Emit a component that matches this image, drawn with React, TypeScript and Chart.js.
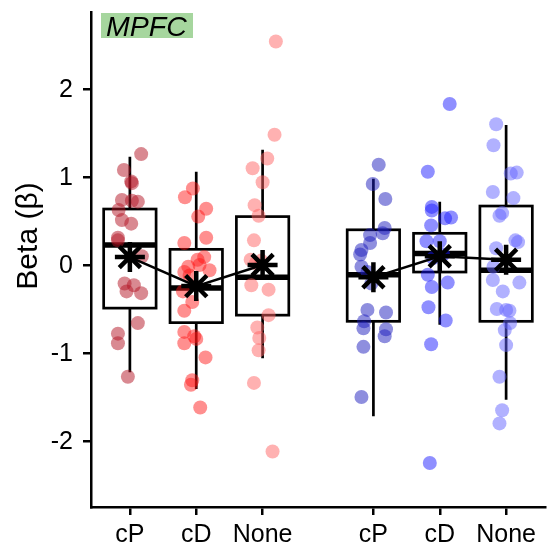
import React, { useEffect, useRef } from 'react';
import { Chart, registerables } from 'chart.js';
Chart.register(...registerables);

const FONT = '"Liberation Sans", Arial, sans-serif';

const categories = ['cP', 'cD', 'None', 'cP', 'cD', 'None'];
const positions = [1, 2, 3, 4.67, 5.67, 6.67];
const yTicks = [-2, -1, 0, 1, 2];

// individual values (beta) and horizontal jitter (category units)
const g1Values = [1.26, 1.08, 0.95, 0.93, 0.74, 0.73, 0.72, 0.625, 0.51, 0.47, 0.31, 0.28, 0.1, -0.21, -0.23, -0.3, -0.32, -0.66, -0.78, -0.89, -1.27];
const g1Jitter = [0.17, -0.09, 0.02, 0.03, -0.12, 0.03, 0.12, -0.17, -0.12, 0.02, -0.18, -0.18, 0.18, -0.08, 0.06, -0.05, 0.17, 0.12, -0.18, -0.18, -0.03];
const g2Values = [0.87, 0.77, 0.64, 0.55, 0.31, 0.25, 0.09, 0.06, 0.0, -0.02, -0.06, -0.08, -0.12, -0.3, -0.42, -0.52, -0.76, -0.81, -0.84, -0.89, -1.05, -1.31, -1.36, -1.62];
const g2Jitter = [-0.05, -0.17, 0.15, 0.03, 0.15, -0.18, 0.12, 0.02, 0.05, -0.12, 0.2, -0.18, -0.1, -0.2, -0.06, -0.18, -0.18, -0.03, 0.0, -0.18, 0.14, -0.06, -0.08, 0.06];
const g3Values = [2.54, 1.48, 1.21, 1.1, 0.94, 0.68, 0.56, 0.28, 0.06, 0.05, 0.02, -0.23, -0.28, -0.57, -0.71, -0.83, -0.97, -1.34, -2.12];
const g3Jitter = [0.2, 0.18, 0.07, -0.15, 0.0, -0.12, -0.06, -0.13, -0.18, -0.02, -0.1, -0.17, 0.09, 0.09, -0.08, -0.05, -0.06, -0.13, 0.15];
const g4Values = [1.14, 0.92, 0.75, 0.42, 0.36, 0.34, 0.25, 0.17, 0.12, -0.02, -0.08, -0.21, -0.51, -0.54, -0.64, -0.72, -0.73, -0.81, -0.93, -1.5];
const g4Jitter = [0.08, -0.01, 0.18, 0.17, 0.14, -0.05, -0.05, -0.18, -0.2, -0.18, -0.09, -0.03, -0.09, 0.19, -0.14, -0.15, 0.19, 0.17, -0.15, -0.18];
const g5Values = [1.83, 1.06, 0.66, 0.62, 0.54, 0.53, 0.45, 0.27, 0.27, 0.12, 0.08, -0.11, -0.2, -0.25, -0.48, -0.63, -0.9, -2.25];
const g5Jitter = [0.15, -0.18, -0.12, -0.12, 0.17, 0.08, -0.13, -0.2, 0.0, 0.05, -0.1, -0.18, 0.12, -0.12, -0.17, 0.09, -0.13, -0.15];
const g6Values = [1.6, 1.36, 1.05, 1.04, 0.83, 0.76, 0.59, 0.56, 0.28, 0.26, 0.19, -0.02, -0.17, -0.2, -0.3, -0.5, -0.51, -0.52, -0.66, -0.74, -0.91, -1.27, -1.65, -1.8];
const g6Jitter = [-0.15, -0.19, 0.16, 0.07, -0.2, 0.11, -0.06, -0.1, 0.14, 0.18, -0.15, -0.19, -0.2, 0.2, -0.05, -0.14, 0.0, 0.05, 0.06, -0.02, 0.0, -0.1, -0.06, -0.1];

const groupValues = [g1Values, g2Values, g3Values, g4Values, g5Values, g6Values];
const groupJitter = [g1Jitter, g2Jitter, g3Jitter, g4Jitter, g5Jitter, g6Jitter];
const pointColors = [
  'rgba(180,20,35,0.5)',
  'rgba(255,20,20,0.48)',
  'rgba(255,100,100,0.5)',
  'rgba(30,30,190,0.5)',
  'rgba(20,20,255,0.48)',
  'rgba(100,100,255,0.5)',
];

// box statistics
const q1 = [-0.49, -0.655, -0.57, -0.64, -0.08, -0.64];
const medians = [0.227, -0.26, -0.14, -0.11, 0.13, -0.06];
const q3 = [0.636, 0.178, 0.55, 0.4, 0.36, 0.67];
const whiskerLow = [-1.22, -1.41, -1.06, -1.72, -0.68, -1.53];
const whiskerHigh = [1.23, 1.06, 1.31, 0.98, 0.72, 1.59];
const means = [0.09, -0.24, 0.0, -0.14, 0.1, 0.06];

const BOX_HALF = 0.395;

const boxPlugin = {
  id: 'boxes',
  beforeDatasetsDraw(chart: any) {
    const { ctx, scales } = chart;
    const xs = scales.x;
    const ys = scales.y;
    ctx.save();
    ctx.strokeStyle = '#000';
    ctx.lineCap = 'butt';
    for (let i = 0; i < positions.length; i++) {
      const xl = xs.getPixelForValue(positions[i] - BOX_HALF);
      const xr = xs.getPixelForValue(positions[i] + BOX_HALF);
      const xc = xs.getPixelForValue(positions[i]);
      const yq1 = ys.getPixelForValue(q1[i]);
      const yq3 = ys.getPixelForValue(q3[i]);
      const ymed = ys.getPixelForValue(medians[i]);
      const ylo = ys.getPixelForValue(whiskerLow[i]);
      const yhi = ys.getPixelForValue(whiskerHigh[i]);
      ctx.lineWidth = 2.7;
      ctx.beginPath();
      ctx.moveTo(xc, yq3);
      ctx.lineTo(xc, yhi);
      ctx.moveTo(xc, yq1);
      ctx.lineTo(xc, ylo);
      ctx.stroke();
      ctx.strokeRect(xl, yq3, xr - xl, yq1 - yq3);
      ctx.lineWidth = 5.5;
      ctx.beginPath();
      ctx.moveTo(xl, ymed);
      ctx.lineTo(xr, ymed);
      ctx.stroke();
    }
    ctx.restore();
  },
  afterDraw(chart: any) {
    const { ctx, scales, chartArea } = chart;
    const xs = scales.x;
    const ys = scales.y;
    ctx.save();
    ctx.fillStyle = '#000';
    ctx.font = `25px ${FONT}`;
    // y tick labels
    ctx.textAlign = 'right';
    ctx.textBaseline = 'middle';
    for (const v of yTicks) {
      ctx.fillText(String(v), chartArea.left - 18, ys.getPixelForValue(v) + 1);
    }
    // x tick labels
    ctx.textAlign = 'center';
    ctx.textBaseline = 'alphabetic';
    positions.forEach((p, i) => {
      ctx.fillText(categories[i], xs.getPixelForValue(p), chartArea.bottom + 35);
    });
    // panel label
    ctx.fillStyle = 'rgb(166,214,158)';
    ctx.fillRect(101, 13, 92, 25);
    ctx.fillStyle = '#000';
    ctx.font = `italic 28.5px ${FONT}`;
    ctx.textAlign = 'left';
    ctx.fillText('MPFC', 106, 36);
    // y axis title
    ctx.translate(37, 236);
    ctx.rotate(-Math.PI / 2);
    ctx.font = `30px ${FONT}`;
    ctx.textAlign = 'center';
    ctx.fillText('Beta (β)', 0, 0);
    ctx.restore();
  },
};

export default function App() {
  const ref = useRef<HTMLCanvasElement | null>(null);
  useEffect(() => {
    if (!ref.current) return;
    const pointSets = groupValues.map((vals, gi) => ({
      type: 'scatter' as const,
      order: 2,
      data: vals.map((v, k) => ({ x: positions[gi] + groupJitter[gi][k], y: v })),
      backgroundColor: pointColors[gi],
      borderWidth: 0,
      pointRadius: 7,
      pointHoverRadius: 7,
    }));
    const meanSets = [0, 3].map((start) => ({
      type: 'line' as const,
      order: 0,
      data: [0, 1, 2].map((k) => ({ x: positions[start + k], y: means[start + k] })),
      borderColor: '#000',
      borderWidth: 2.5,
      fill: false,
      pointStyle: 'star',
      pointRadius: 15,
      pointHoverRadius: 15,
      pointBorderWidth: 4.5,
      pointBorderColor: '#000',
      pointBackgroundColor: '#000',
    }));
    const chart = new Chart(ref.current, {
      type: 'scatter',
      data: { datasets: [...meanSets, ...pointSets] as any },
      options: {
        animation: false,
        responsive: false,
        devicePixelRatio: 1,
        layout: { autoPadding: false, padding: { top: 12, right: 2, left: 0, bottom: 0 } },
        plugins: { legend: { display: false }, tooltip: { enabled: false } },
        scales: {
          x: {
            type: 'linear',
            min: 0.414,
            max: 7.256,
            afterBuildTicks: (s: any) => {
              s.ticks = positions.map((v) => ({ value: v }));
            },
            afterFit: (s: any) => {
              s.height = 43;
            },
            ticks: { display: false },
            grid: { display: true, drawOnChartArea: false, drawTicks: true, tickLength: 8, color: '#000', lineWidth: 2.5 },
            border: { display: true, color: '#000', width: 2.5 },
          },
          y: {
            type: 'linear',
            min: -2.75,
            max: 2.875,
            afterBuildTicks: (s: any) => {
              s.ticks = yTicks.map((v) => ({ value: v }));
            },
            afterFit: (s: any) => {
              s.width = 91;
            },
            ticks: { display: false },
            grid: { display: true, drawOnChartArea: false, drawTicks: true, tickLength: 8, color: '#000', lineWidth: 2.5 },
            border: { display: true, color: '#000', width: 2.5 },
          },
        },
      } as any,
      plugins: [boxPlugin],
    });
    return () => chart.destroy();
  }, []);
  return (
    <div style={{ position: 'absolute', left: 0, top: 0, width: 547, height: 550, background: '#fff' }}>
      <canvas ref={ref} width={547} height={550} style={{ display: 'block' }} />
    </div>
  );
}
